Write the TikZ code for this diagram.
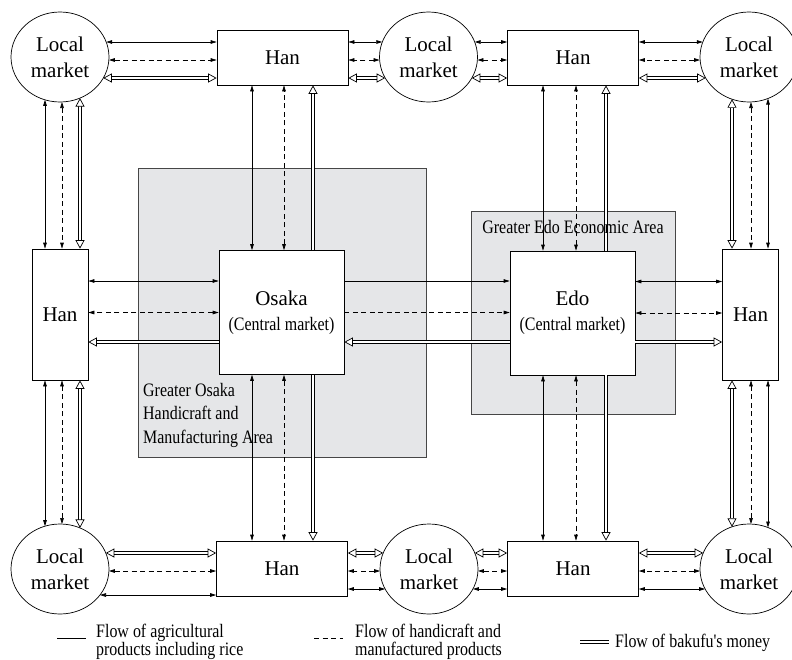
\documentclass[tikz,border=0pt]{standalone}
\usepackage{fontspec}
\setmainfont{Liberation Serif}
\newfontfamily\narrowfont{Liberation Serif}[FakeStretch=0.84]
\usepackage{tikz}
\usetikzlibrary{arrows.meta,positioning,shapes.geometric}
\definecolor{areagray}{RGB}{229,230,232}
\definecolor{areaedge}{RGB}{70,70,70}
\newcommand{\mktext}{\fontsize{21}{26}\selectfont}
\newcommand{\notetext}{\narrowfont\fontsize{19}{23.5}\selectfont}
\tikzset{
  agri/.style={line width=0.7pt, >={Triangle[length=6pt, width=3.6pt]}},
  craft/.style={agri, dash pattern=on 5pt off 3.5pt},
  money/.style={double, line width=0.75pt, double distance=2.3pt,
    >={Triangle[fill=white, length=8.5pt, width=9pt, line width=0.7pt]}},
  hanbox/.style={draw, line width=0.7pt, fill=white, inner sep=0pt, font=\mktext},
  widebox/.style={hanbox, minimum width=131pt, minimum height=55pt},
  tallbox/.style={hanbox, minimum width=56pt, minimum height=131pt},
  centralbox/.style={hanbox, minimum width=125pt, minimum height=124pt, align=center},
  market/.style={draw, ellipse, line width=0.7pt, fill=white, inner sep=0pt,
    minimum width=98pt, minimum height=90pt, align=center, font=\mktext},
  area/.style={draw=areaedge, line width=0.8pt, fill=areagray},
  note/.style={inner sep=0pt, align=left, font=\notetext},
  legend/.style={note, font=\narrowfont\fontsize{19}{18}\selectfont}
}

\begin{document}
\begin{tikzpicture}[x=1pt, y=-1pt]
  \useasboundingbox (0,0) rectangle (792,659);

  % economic areas
  \draw[area] (138,168) rectangle (426,457);
  \draw[area] (471,211) rectangle (675,414);

  % central markets and han
  \node[centralbox] (osaka) at (281.5,312.5) {Osaka\\[-1pt]{\notetext (Central market)}};
  \node[centralbox] (edo) at (572.5,313) {Edo\\[-1pt]{\notetext (Central market)}};
  \node[widebox] (tlh) at (282.5,57.5) {Han};
  \node[widebox] (trh) at (573,57.5) {Han};
  \node[widebox] (blh) at (282,568.5) {Han};
  \node[widebox] (brh) at (573,568.5) {Han};
  \node[tallbox] (lh) at (60,314.5) {Han};
  \node[tallbox] (rh) at (750.5,314.5) {Han};

  % local markets
  \node[market] (tlm) at (60,57) {Local\\market};
  \node[market] (tmm) at (428.5,57) {Local\\market};
  \node[market] (trm) at (749,57) {Local\\market};
  \node[market] (blm) at (60,569) {Local\\market};
  \node[market] (bmm) at (429,569) {Local\\market};
  \node[market] (brm) at (749,569) {Local\\market};

  % top row
  \draw[agri, <->] ([shift={(46.2,-15)}]tlm.center) -- ([yshift=15pt]tlm.center -| tlh.west);
  \draw[craft, <->] ([shift={(48.9,3)}]tlm.center) -- ([yshift=-3pt]tlm.center -| tlh.west);
  \draw[money, <->] ([shift={(43.3,21)}]tlm.center) -- ([yshift=-21pt]tlm.center -| tlh.west);
  \draw[agri, <->] ([shift={(-46.2,-15)}]tmm.center) -- ([yshift=15pt]tmm.center -| tlh.east);
  \draw[craft, <->] ([shift={(-48.9,3)}]tmm.center) -- ([yshift=-3pt]tmm.center -| tlh.east);
  \draw[money, <->] ([shift={(-43.3,21)}]tmm.center) -- ([yshift=-21pt]tmm.center -| tlh.east);
  \draw[agri, <->] ([shift={(46.2,-15)}]tmm.center) -- ([yshift=15pt]tmm.center -| trh.west);
  \draw[craft, <->] ([shift={(48.9,3)}]tmm.center) -- ([yshift=-3pt]tmm.center -| trh.west);
  \draw[money, <->] ([shift={(43.3,21)}]tmm.center) -- ([yshift=-21pt]tmm.center -| trh.west);
  \draw[agri, <->] ([shift={(-46.2,-15)}]trm.center) -- ([yshift=15pt]trm.center -| trh.east);
  \draw[craft, <->] ([shift={(-48.9,3)}]trm.center) -- ([yshift=-3pt]trm.center -| trh.east);
  \draw[money, <->] ([shift={(-43.3,21)}]trm.center) -- ([yshift=-21pt]trm.center -| trh.east);

  % bottom row
  \draw[money, <->] ([shift={(45.8,-16)}]blm.center) -- ([yshift=16pt]blm.center -| blh.west);
  \draw[craft, <->] ([shift={(48.9,2)}]blm.center) -- ([yshift=-2pt]blm.center -| blh.west);
  \draw[agri, <->] ([shift={(40,26)}]blm.center) -- ([yshift=-26pt]blm.center -| blh.west);
  \draw[money, <->] ([shift={(-45.8,-16)}]bmm.center) -- ([yshift=16pt]bmm.center -| blh.east);
  \draw[craft, <->] ([shift={(-48.9,2)}]bmm.center) -- ([yshift=-2pt]bmm.center -| blh.east);
  \draw[agri, <->] ([shift={(-43.9,20)}]bmm.center) -- ([yshift=-20pt]bmm.center -| blh.east);
  \draw[money, <->] ([shift={(45.8,-16)}]bmm.center) -- ([yshift=16pt]bmm.center -| brh.west);
  \draw[craft, <->] ([shift={(48.9,2)}]bmm.center) -- ([yshift=-2pt]bmm.center -| brh.west);
  \draw[agri, <->] ([shift={(43.9,20)}]bmm.center) -- ([yshift=-20pt]bmm.center -| brh.west);
  \draw[money, <->] ([shift={(-45.8,-16)}]brm.center) -- ([yshift=16pt]brm.center -| brh.east);
  \draw[craft, <->] ([shift={(-48.9,2)}]brm.center) -- ([yshift=-2pt]brm.center -| brh.east);
  \draw[agri, <->] ([shift={(-43.9,20)}]brm.center) -- ([yshift=-20pt]brm.center -| brh.east);

  % left column
  \draw[agri, <->] ([shift={(-15,42.8)}]tlm.center) -- ([xshift=-15pt]tlm.center |- lh.north);
  \draw[craft, <->] ([shift={(2,45)}]tlm.center) -- ([xshift=2pt]tlm.center |- lh.north);
  \draw[money, <->] ([shift={(20,41.1)}]tlm.center) -- ([xshift=20pt]tlm.center |- lh.north);
  \draw[agri, <->] ([shift={(-15,-42.8)}]blm.center) -- ([xshift=-15pt]blm.center |- lh.south);
  \draw[craft, <->] ([shift={(2,-45)}]blm.center) -- ([xshift=2pt]blm.center |- lh.south);
  \draw[money, <->] ([shift={(20,-41.1)}]blm.center) -- ([xshift=20pt]blm.center |- lh.south);

  % right column
  \draw[money, <->] ([shift={(-17,42.2)}]trm.center) -- ([xshift=-17pt]trm.center |- rh.north);
  \draw[craft, <->] ([shift={(2,45)}]trm.center) -- ([xshift=2pt]trm.center |- rh.north);
  \draw[agri, <->] ([shift={(19,41.5)}]trm.center) -- ([xshift=19pt]trm.center |- rh.north);
  \draw[money, <->] ([shift={(-17,-42.2)}]brm.center) -- ([xshift=-17pt]brm.center |- rh.south);
  \draw[craft, <->] ([shift={(2,-45)}]brm.center) -- ([xshift=2pt]brm.center |- rh.south);
  \draw[agri, <->] ([shift={(19,-41.5)}]brm.center) -- ([xshift=19pt]brm.center |- rh.south);

  % Osaka links
  \draw[agri, <->] ([yshift=31.5pt]osaka.west) -- ([yshift=31.5pt]osaka.west -| lh.east);
  \draw[craft, <->] (osaka.west) -- (osaka.west -| lh.east);
  \draw[money, ->] ([yshift=-29.5pt]osaka.west) -- ([yshift=-29.5pt]osaka.west -| lh.east);
  \draw[agri, ->] ([yshift=31.5pt]osaka.east) -- ([yshift=31.5pt]osaka.east -| edo.west);
  \draw[craft, ->] (osaka.east) -- (osaka.east -| edo.west);
  \draw[money, <-] ([yshift=-29.5pt]osaka.east) -- ([yshift=-29.5pt]osaka.east -| edo.west);
  \draw[agri, <->] ([xshift=-29.5pt]osaka.north) -- ([xshift=-29.5pt]osaka.north |- tlh.south);
  \draw[craft, <->] ([xshift=2.5pt]osaka.north) -- ([xshift=2.5pt]osaka.north |- tlh.south);
  \draw[money, ->] ([xshift=31.5pt]osaka.north) -- ([xshift=31.5pt]osaka.north |- tlh.south);
  \draw[agri, <->] ([xshift=-29.5pt]osaka.south) -- ([xshift=-29.5pt]osaka.south |- blh.north);
  \draw[craft, <->] ([xshift=2.5pt]osaka.south) -- ([xshift=2.5pt]osaka.south |- blh.north);
  \draw[money, ->] ([xshift=31.5pt]osaka.south) -- ([xshift=31.5pt]osaka.south |- blh.north);

  % Edo links
  \draw[agri, <->] ([yshift=31.5pt]edo.east) -- ([yshift=31.5pt]edo.east -| rh.west);
  \draw[craft, <->] (edo.east) -- (edo.east -| rh.west);
  \draw[money, ->] ([yshift=-29pt]edo.east) -- ([yshift=-29pt]edo.east -| rh.west);
  \draw[agri, <->] ([xshift=-29.5pt]edo.north) -- ([xshift=-29.5pt]edo.north |- trh.south);
  \draw[craft, <->] ([xshift=3.5pt]edo.north) -- ([xshift=3.5pt]edo.north |- trh.south);
  \draw[money, ->] ([xshift=33.5pt]edo.north) -- ([xshift=33.5pt]edo.north |- trh.south);
  \draw[agri, <->] ([xshift=-29.5pt]edo.south) -- ([xshift=-29.5pt]edo.south |- brh.north);
  \draw[craft, <->] ([xshift=3.5pt]edo.south) -- ([xshift=3.5pt]edo.south |- brh.north);
  \draw[money, ->] ([xshift=33.5pt]edo.south) -- ([xshift=33.5pt]edo.south |- brh.north);

  % area labels
  \node[note, anchor=north west] (osakanote) at (143,383) {Greater Osaka\\Handicraft and\\Manufacturing Area};
  \node[note, anchor=base] (edonote) at (573,233) {Greater Edo Economic Area};

  % legend
  \node[legend, anchor=north west] (lgagri) at (96,624) {Flow of agricultural\\products including rice};
  \node[legend, anchor=north west] (lgcraft) at (355,624) {Flow of handicraft and\\manufactured products};
  \node[legend, anchor=base west] (lgmoney) at (615,647) {Flow of bakufu's money};
  \draw[agri] ([xshift=-39pt, yshift=-14pt]lgagri.north west) -- ([xshift=-10pt, yshift=-14pt]lgagri.north west);
  \draw[craft] ([xshift=-41pt, yshift=-14pt]lgcraft.north west) -- ([xshift=-12pt, yshift=-14pt]lgcraft.north west);
  \draw[money] ([xshift=-35pt, yshift=5pt]lgmoney.base west) -- ([xshift=-6pt, yshift=5pt]lgmoney.base west);
\end{tikzpicture}
\end{document}
